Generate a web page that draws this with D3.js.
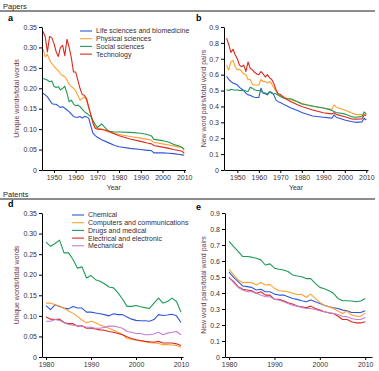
<!DOCTYPE html>
<html lang="en">
<head>
<meta charset="UTF-8">
<title>Papers and patents novelty</title>
<script src="https://d3js.org/d3.v7.min.js"></script>
<style>
    body { margin: 0; background: #fff; }
    svg { font-family: "Liberation Sans", Arial, sans-serif; }
    .tick text { font-size: 7px; fill: #3a2f36; }
    .domain, .tick line { stroke: #000; stroke-width: 1; }
    .ylab { font-size: 7px; fill: #6b3b4b; }
    .xlab { font-size: 7px; fill: #3a2f36; }
    .legend text { font-size: 7px; fill: #3a2a33; }
    .section { font-size: 7.5px; fill: #222; }
    .letter { font-size: 9px; font-weight: bold; fill: #000; }
</style>
</head>
<body>
<script>
// ---- Papers (panels a, b)
const paperYears = [1945,1946,1947,1948,1949,1950,1951,1952,1953,1954,1955,1956,1957,1958,1959,
    1960,1961,1962,1963,1964,1965,1966,1967,1968,1969,1970,1972,1975,1978,1980,1985,1990,
    1993,1994,1995,1996,2000,2003,2005,2008,2009,2010]
const paperFields = ["Life sciences and biomedicine", "Physical sciences", "Social sciences", "Technology"]

const uniqueLife = [0.188,0.184,0.179,0.171,0.163,0.161,0.161,0.157,0.153,0.155,0.151,0.147,0.143,0.137,0.131,
    0.129,0.129,0.131,0.127,0.131,0.130,0.127,0.108,0.090,0.084,0.080,0.074,0.067,0.060,0.057,0.053,0.050,
    0.048,0.048,0.047,0.042,0.042,0.041,0.040,0.038,0.037,0.036]
const uniquePhysical = [0.296,0.277,0.283,0.269,0.261,0.254,0.248,0.243,0.236,0.231,0.229,0.220,0.210,0.204,0.200,
    0.194,0.183,0.171,0.175,0.179,0.171,0.151,0.135,0.119,0.106,0.102,0.101,0.093,0.089,0.087,0.082,0.078,
    0.075,0.074,0.072,0.068,0.064,0.061,0.059,0.056,0.055,0.048]
const uniqueSocial = [0.224,0.222,0.220,0.216,0.218,0.205,0.202,0.204,0.196,0.200,0.205,0.188,0.167,0.171,0.162,
    0.157,0.159,0.155,0.149,0.143,0.139,0.135,0.131,0.121,0.112,0.104,0.113,0.095,0.093,0.093,0.092,0.090,
    0.087,0.085,0.083,0.075,0.072,0.068,0.063,0.058,0.055,0.051]
const uniqueTech = [0.339,0.326,0.289,0.327,0.324,0.310,0.290,0.278,0.300,0.305,0.280,0.320,0.300,0.275,0.240,
    0.240,0.220,0.200,0.185,0.183,0.175,0.155,0.135,0.114,0.102,0.100,0.099,0.096,0.088,0.084,0.076,0.070,
    0.066,0.065,0.064,0.060,0.056,0.053,0.050,0.047,0.046,0.041]

const pairsLife = [0.59,0.57,0.557,0.547,0.542,0.536,0.52,0.51,0.50,0.484,0.473,0.47,0.462,0.458,0.456,
    0.456,0.515,0.484,0.48,0.473,0.494,0.488,0.473,0.44,0.43,0.425,0.41,0.39,0.374,0.362,0.34,0.332,
    0.328,0.326,0.347,0.332,0.315,0.305,0.30,0.303,0.326,0.315]
const pairsPhysical = [0.66,0.63,0.68,0.69,0.65,0.63,0.635,0.62,0.605,0.60,0.57,0.57,0.54,0.535,0.535,
    0.535,0.57,0.557,0.557,0.547,0.557,0.542,0.52,0.495,0.477,0.467,0.458,0.44,0.43,0.42,0.40,0.39,
    0.383,0.38,0.41,0.395,0.378,0.36,0.35,0.347,0.35,0.35]
const pairsSocial = [0.505,0.50,0.508,0.505,0.502,0.505,0.50,0.50,0.50,0.497,0.495,0.52,0.515,0.505,0.50,
    0.50,0.495,0.488,0.485,0.48,0.488,0.483,0.48,0.48,0.47,0.462,0.45,0.448,0.43,0.415,0.403,0.39,
    0.38,0.375,0.368,0.362,0.353,0.336,0.332,0.336,0.365,0.353]
const pairsTech = [0.83,0.79,0.74,0.76,0.725,0.70,0.66,0.65,0.66,0.62,0.68,0.64,0.63,0.615,0.605,
    0.60,0.62,0.605,0.585,0.60,0.58,0.57,0.545,0.505,0.48,0.475,0.452,0.43,0.41,0.40,0.378,0.36,
    0.355,0.353,0.36,0.35,0.335,0.322,0.32,0.322,0.345,0.345]

// ---- Patents (panels d, e)
const patentYears = d3.range(1980, 2011)
const patentFields = ["Chemical", "Computers and communications", "Drugs and medical", "Electrical and electronic", "Mechanical"]

const uniqueChemical = [0.125,0.115,0.127,0.123,0.119,0.117,0.123,0.119,0.119,0.109,0.109,0.107,0.105,0.103,0.100,0.105,
    0.103,0.103,0.097,0.092,0.089,0.088,0.088,0.087,0.091,0.103,0.101,0.102,0.104,0.100,0.084]
const uniqueComputers = [0.131,0.131,0.127,0.124,0.118,0.112,0.106,0.098,0.090,0.083,0.087,0.083,0.078,0.074,0.070,0.065,
    0.060,0.055,0.045,0.043,0.041,0.039,0.037,0.035,0.034,0.033,0.030,0.030,0.029,0.028,0.024]
const uniqueDrugs = [0.279,0.269,0.276,0.284,0.253,0.253,0.237,0.216,0.219,0.192,0.198,0.188,0.184,0.178,0.170,0.168,
    0.156,0.141,0.123,0.123,0.125,0.122,0.120,0.118,0.131,0.143,0.131,0.135,0.143,0.135,0.109]
const uniqueElectrical = [0.097,0.092,0.091,0.092,0.084,0.081,0.081,0.075,0.076,0.070,0.070,0.068,0.066,0.065,0.062,0.060,
    0.057,0.054,0.049,0.045,0.042,0.040,0.038,0.037,0.036,0.038,0.034,0.034,0.034,0.032,0.028]
const uniqueMechanical = [0.087,0.087,0.091,0.089,0.083,0.079,0.077,0.076,0.075,0.073,0.072,0.070,0.070,0.072,0.075,0.075,
    0.073,0.070,0.062,0.060,0.057,0.057,0.054,0.054,0.056,0.060,0.054,0.058,0.060,0.062,0.054]

const pairsChemical = [0.53,0.498,0.471,0.444,0.44,0.435,0.419,0.423,0.408,0.408,0.393,0.387,0.387,0.377,0.366,0.36,
    0.352,0.345,0.356,0.345,0.335,0.324,0.314,0.308,0.303,0.293,0.289,0.278,0.278,0.278,0.289]
const pairsComputers = [0.548,0.513,0.481,0.465,0.467,0.465,0.45,0.465,0.45,0.454,0.429,0.414,0.412,0.408,0.398,0.391,
    0.391,0.373,0.393,0.366,0.341,0.324,0.314,0.303,0.287,0.272,0.287,0.262,0.255,0.255,0.276]
const pairsDrugs = [0.722,0.69,0.66,0.628,0.628,0.624,0.617,0.607,0.575,0.582,0.555,0.548,0.544,0.534,0.513,0.506,
    0.502,0.49,0.49,0.46,0.435,0.427,0.414,0.398,0.366,0.352,0.352,0.35,0.345,0.35,0.366]
const pairsElectrical = [0.498,0.471,0.44,0.423,0.419,0.414,0.398,0.408,0.387,0.387,0.36,0.36,0.352,0.339,0.331,0.318,
    0.314,0.308,0.318,0.303,0.293,0.283,0.276,0.272,0.255,0.234,0.234,0.22,0.213,0.213,0.22]
const pairsMechanical = [0.498,0.465,0.435,0.419,0.408,0.408,0.398,0.387,0.377,0.377,0.36,0.356,0.345,0.335,0.324,0.318,
    0.31,0.303,0.303,0.297,0.289,0.283,0.276,0.272,0.266,0.255,0.251,0.241,0.234,0.234,0.247]

const paperColors = ["#2f56d9", "#ff9f32", "#1f9a57", "#d92a1f"]
const patentColors = ["#2f56d9", "#ff9f32", "#1f9a57", "#d92a1f", "#c27fd2"]

const svg = d3.select("body").append("svg")
    .attr("width", 379)
    .attr("height", 371)

// section headers
function section(label, y) {
    svg.append("text").attr("class", "section").attr("x", 3).attr("y", y).text(label)
    svg.append("line")
        .attr("x1", 0).attr("x2", 375)
        .attr("y1", y + 2.5).attr("y2", y + 2.5)
        .attr("stroke", "#000").attr("stroke-width", 0.9)
}
section("Papers", 8.5)
section("Patents", 196.5)

function panel(o) {
    const x = d3.scaleLinear().domain(o.xDomain).range(o.xRange)
    const y = d3.scaleLinear().domain(o.yDomain).range(o.yRange)
    const g = svg.append("g")

    o.series.forEach((vals, i) => {
        const pts = o.years.map((yr, j) => [yr, vals[j]])
        g.append("path")
            .datum(pts)
            .attr("fill", "none")
            .attr("stroke", o.colors[i])
            .attr("stroke-width", 1.1)
            .attr("stroke-linejoin", "round")
            .attr("d", d3.line().x(d => x(d[0])).y(d => y(d[1])))
    })

    g.append("g")
        .attr("transform", "translate(0," + o.yRange[0] + ")")
        .call(d3.axisBottom(x).tickValues(o.xTicks).tickFormat(d3.format("d")).tickSize(3).tickPadding(2).tickSizeOuter(0))
    g.append("g")
        .attr("transform", "translate(" + o.xRange[0] + ",0)")
        .call(d3.axisLeft(y).tickValues(o.yTicks).tickFormat(d => d === 0 ? "0" : d.toFixed(o.digits)).tickSize(3).tickPadding(2).tickSizeOuter(0))

    const midY = (o.yRange[0] + o.yRange[1]) / 2
    g.append("text")
        .attr("class", "ylab")
        .attr("transform", "translate(" + o.labelX + "," + midY + ") rotate(-90)")
        .attr("text-anchor", "middle")
        .attr("dy", "0.35em")
        .text(o.yLabel)

    if (o.xLabel) {
        g.append("text")
            .attr("class", "xlab")
            .attr("x", (o.xRange[0] + o.xRange[1]) / 2)
            .attr("y", o.yRange[0] + 20)
            .attr("text-anchor", "middle")
            .text(o.xLabel)
    }

    g.append("text")
        .attr("class", "letter")
        .attr("x", o.letterPos[0]).attr("y", o.letterPos[1])
        .text(o.letter)

    if (o.legend) {
        const lg = g.append("g").attr("class", "legend")
        o.legend.forEach((name, i) => {
            const ly = o.legendPos[1] + i * o.legendStep
            lg.append("line")
                .attr("x1", o.legendPos[0]).attr("x2", o.legendPos[0] + 12)
                .attr("y1", ly).attr("y2", ly)
                .attr("stroke", o.colors[i]).attr("stroke-width", 1.1)
            lg.append("text")
                .attr("x", o.legendPos[0] + 16).attr("y", ly)
                .attr("dy", "0.35em")
                .text(name)
        })
    }
}

const uniqTicks = d3.range(0, 0.351, 0.05)
const pairTicks = d3.range(0, 0.91, 0.1)

panel({
    letter: "a", letterPos: [8, 21],
    years: paperYears, series: [uniqueLife, uniquePhysical, uniqueSocial, uniqueTech], colors: paperColors,
    xDomain: [1944.5, 2010.6], xRange: [42, 185.5], yDomain: [0, 0.35], yRange: [170, 27],
    xTicks: d3.range(1950, 2011, 10), yTicks: uniqTicks, digits: 2,
    yLabel: "Unique words/total words", labelX: 17, xLabel: "Year",
    legend: paperFields, legendPos: [80, 31], legendStep: 7.7
})
panel({
    letter: "b", letterPos: [196, 21],
    years: paperYears, series: [pairsLife, pairsPhysical, pairsSocial, pairsTech], colors: paperColors,
    xDomain: [1943.8, 2010.8], xRange: [224, 368], yDomain: [0, 0.9], yRange: [170, 27],
    xTicks: d3.range(1950, 2011, 10), yTicks: pairTicks, digits: 1,
    yLabel: "New word pairs/total word pairs", labelX: 204, xLabel: "Year"
})
panel({
    letter: "d", letterPos: [8, 207],
    years: patentYears, series: [uniqueChemical, uniqueComputers, uniqueDrugs, uniqueElectrical, uniqueMechanical], colors: patentColors,
    xDomain: [1979.1, 2010.45], xRange: [42, 183], yDomain: [0, 0.35], yRange: [357, 213],
    xTicks: [1980, 1990, 2000, 2010], yTicks: uniqTicks, digits: 2,
    yLabel: "Unique words/total words", labelX: 17,
    legend: patentFields, legendPos: [72, 215], legendStep: 7.7
})
panel({
    letter: "e", letterPos: [196, 210],
    years: patentYears, series: [pairsChemical, pairsComputers, pairsDrugs, pairsElectrical, pairsMechanical], colors: patentColors,
    xDomain: [1979.1, 2011.5], xRange: [225, 372], yDomain: [0, 0.9], yRange: [357, 213],
    xTicks: [1980, 1990, 2000, 2010], yTicks: pairTicks, digits: 1,
    yLabel: "New word pairs/total word pairs", labelX: 204
})
</script>
</body>
</html>
